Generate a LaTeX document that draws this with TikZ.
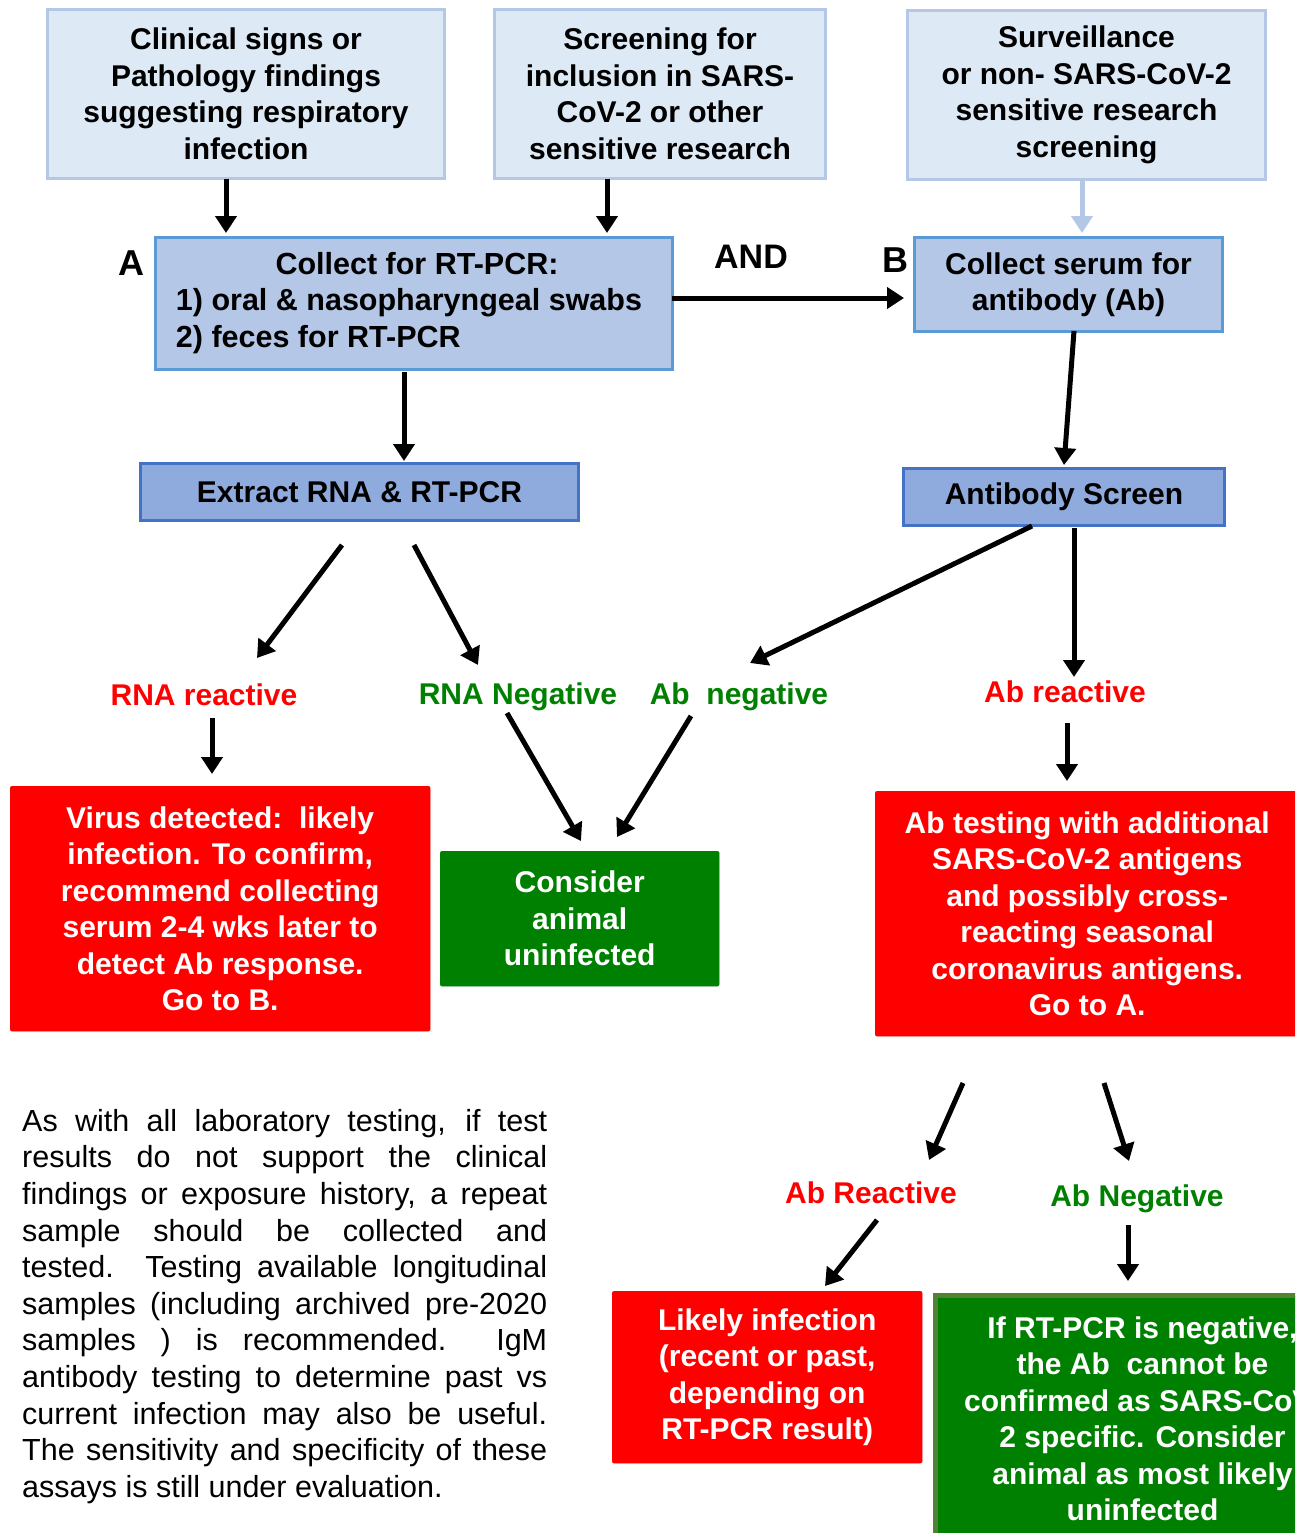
\documentclass[tikz,border=0pt]{standalone}
\usepackage{fontspec}
\setmainfont{Liberation Sans}
\usetikzlibrary{arrows.meta}
\definecolor{lightbox}{HTML}{DEE9F6}
\definecolor{lightedge}{HTML}{B4C7E7}
\definecolor{midbox}{HTML}{B4C7E7}
\definecolor{midedge}{HTML}{5B9BD5}
\definecolor{darkbox}{HTML}{8FAADC}
\definecolor{darkedge}{HTML}{4472C4}
\definecolor{redbox}{HTML}{FF0000}
\definecolor{greenbox}{HTML}{008000}
\definecolor{greenedge}{HTML}{548235}
\newcommand{\jline}[1]{\makebox[525pt][s]{#1}}
\begin{document}
\begin{tikzpicture}[x=1pt,y=-1pt,
  box/.style={anchor=north west, inner sep=0pt, align=center, font=\bfseries\fontsize{30}{36.5}\selectfont},
  topbox/.style={box, fill=lightbox, draw=lightedge, line width=3pt},
  midbox/.style={box, fill=midbox, draw=midedge, line width=3pt},
  darkbox/.style={box, fill=darkbox, draw=darkedge, line width=3pt},
  redb/.style={box, fill=redbox, draw=redbox, rounded corners=2pt, text=white},
  greenb/.style={box, fill=greenbox, draw=greenbox, rounded corners=2pt, text=white},
  lab/.style={anchor=base, inner sep=0pt, font=\bfseries\fontsize{30}{36.5}\selectfont},
  bigletter/.style={anchor=base, inner sep=0pt, font=\bfseries\fontsize{36}{40}\selectfont},
  arr/.style={line width=5pt, -{Triangle[length=17pt,width=21pt]}},
]
\useasboundingbox (0,0) rectangle (1295,1533);
\clip (0,0) rectangle (1295,1533);

% top boxes
\node[topbox, minimum width=397pt, minimum height=169pt] (clin) at (46,8)
  {Clinical signs or\\Pathology findings\\suggesting respiratory\\infection};
\node[topbox, minimum width=331pt, minimum height=169pt] (scr) at (493,8)
  {Screening for\\inclusion in SARS-\\CoV-2 or other\\sensitive research};
\node[topbox, minimum width=358pt, minimum height=169pt] (surv) at (906,9)
  {Surveillance\\or non- SARS-CoV-2\\sensitive research\\screening};

% collect boxes
\node[midbox, minimum width=517pt, minimum height=132pt, font=\bfseries\fontsize{30.5}{36.5}\selectfont] (colA) at (154,236)
  {\begin{tabular}{@{}l@{}}\multicolumn{1}{@{}c@{}}{\hspace*{16pt}Collect for RT-PCR:}\\1) oral \& nasopharyngeal swabs\\2) feces for RT-PCR\end{tabular}\hspace*{10pt}};
\node[midbox, minimum width=308pt, minimum height=94pt] (colB) at (913,236)
  {Collect serum for\\antibody (Ab)};

\node[bigletter] (lA) at (131,275) {A};
\node[bigletter] (lB) at (895,272) {B};
\node[lab, font=\bfseries\fontsize{34}{38}\selectfont] (land) at (751,268) {AND};

% test boxes
\node[darkbox, minimum width=438pt, minimum height=57pt] (rna) at (139,462) {Extract RNA \& RT-PCR};
\node[darkbox, minimum width=321pt, minimum height=57pt] (abs) at (902,467) {Antibody Screen};

% result labels
\node[lab, text=redbox] (rr) at (204,705) {RNA reactive};
\node[lab, text=greenbox] (rn) at (518,704) {RNA Negative};
\node[lab, text=greenbox] (an) at (739,704) {Ab\ \ negative};
\node[lab, text=redbox] (ar) at (1065,702) {Ab reactive};

% outcome boxes
\node[redb, minimum width=420pt, minimum height=245pt] (virus) at (10,786)
  {Virus detected:\ \ likely\\infection. To confirm,\\recommend collecting\\serum 2-4 wks later to\\detect Ab response.\\Go to B.};
\node[greenb, minimum width=279pt, minimum height=135pt] (cons) at (440,851)
  {Consider\\animal\\uninfected};
\node[redb, minimum width=424pt, minimum height=245pt] (abt) at (875,791)
  {Ab testing with additional\\SARS-CoV-2 antigens\\and possibly cross-\\reacting seasonal\\coronavirus antigens.\\Go to A.};

\node[lab, text=redbox] (ar2) at (871,1203) {Ab Reactive};
\node[lab, text=greenbox] (an2) at (1137,1206) {Ab Negative};

\node[redb, minimum width=310pt, minimum height=172pt] (likely) at (612,1291)
  {Likely infection\\(recent or past,\\depending on\\RT-PCR result)};
\node[box, fill=greenbox, draw=greenedge, line width=5pt, text=white, minimum width=414pt, minimum height=247pt] (ifrt) at (933,1293)
  {If RT-PCR is negative,\\the Ab\ \ cannot be\\confirmed as SARS-CoV-\\2 specific. Consider\\animal as most likely\\uninfected};

% paragraph
\node[anchor=north west, inner sep=0pt, text width=525pt, align=justify,
      font=\fontsize{30.5}{36.6}\selectfont] (para) at (22,1109)
  {\jline{As with all laboratory testing, if test}\newline
   \jline{results do not support the clinical}\newline
   \jline{findings or exposure history, a repeat}\newline
   \jline{sample should be collected and}\newline
   \jline{tested. Testing available longitudinal}\newline
   \jline{samples (including archived pre-2020}\newline
   \jline{samples ) is recommended.\ \ IgM}\newline
   \jline{antibody testing to determine past vs}\newline
   \jline{current infection may also be useful.}\newline
   \jline{The sensitivity and specificity of these}\newline
   assays is still under evaluation.};

% arrow end points
\coordinate (c1s) at (226,179);  \coordinate (c1e) at (226,233);
\coordinate (c2s) at (607,179);  \coordinate (c2e) at (607,233);
\coordinate (c3s) at (1082,180); \coordinate (c3e) at (1082,233);
\coordinate (andS) at (672,298); \coordinate (andE) at (904,298);
\coordinate (rtS) at (404,372);  \coordinate (rtE) at (404,461);
\coordinate (abS) at (1074,331); \coordinate (abE) at (1064,465);
\coordinate (rr1s) at (342,545); \coordinate (rr1e) at (257,658);
\coordinate (rn1s) at (414,545); \coordinate (rn1e) at (478,665);
\coordinate (an1s) at (1032,526); \coordinate (an1e) at (750,663);
\coordinate (ar1s) at (1074,528); \coordinate (ar1e) at (1074,677);
\coordinate (rr2s) at (212,718); \coordinate (rr2e) at (212,774);
\coordinate (rn2s) at (507,713); \coordinate (rn2e) at (581,841);
\coordinate (an2s) at (691,716); \coordinate (an2e) at (617,837);
\coordinate (ar2s) at (1067,723); \coordinate (ar2e) at (1067,781);
\coordinate (t1s) at (963,1083); \coordinate (t1e) at (929,1160);
\coordinate (t2s) at (1104,1083); \coordinate (t2e) at (1129,1161);
\coordinate (t3s) at (877,1220); \coordinate (t3e) at (825,1286);
\coordinate (t4s) at (1128,1225); \coordinate (t4e) at (1128,1281);

\draw[arr] (c1s) -- (c1e);
\draw[arr] (c2s) -- (c2e);
\draw[arr, draw=lightedge, fill=lightedge] (c3s) -- (c3e);
\draw[arr] (andS) -- (andE);
\draw[arr] (rtS) -- (rtE);
\draw[arr] (abS) -- (abE);
\draw[arr] (rr1s) -- (rr1e);
\draw[arr] (rn1s) -- (rn1e);
\draw[arr] (an1s) -- (an1e);
\draw[arr] (ar1s) -- (ar1e);
\draw[arr] (rr2s) -- (rr2e);
\draw[arr] (rn2s) -- (rn2e);
\draw[arr] (an2s) -- (an2e);
\draw[arr] (ar2s) -- (ar2e);
\draw[arr] (t1s) -- (t1e);
\draw[arr] (t2s) -- (t2e);
\draw[arr] (t3s) -- (t3e);
\draw[arr] (t4s) -- (t4e);
\end{tikzpicture}
\end{document}
